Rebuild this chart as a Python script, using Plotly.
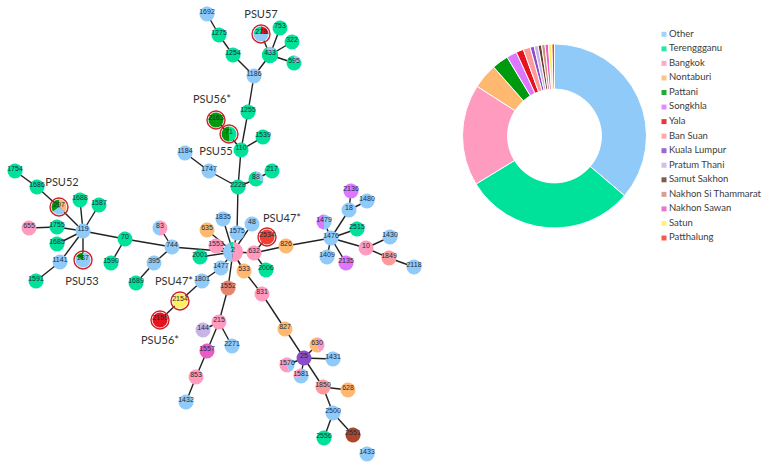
import math
import plotly.graph_objects as go

# donut + legend
places = ["Other", "Terengganu", "Bangkok", "Nontaburi", "Pattani", "Songkhla", "Yala", "Ban Suan",
          "Kuala Lumpur", "Pratum Thani", "Samut Sakhon", "Nakhon Si Thammarat", "Nakhon Sawan", "Satun", "Patthalung"]
legend_labels = ["Other", "Terenggganu", "Bangkok", "Nontaburi", "Pattani", "Songkhla", "Yala", "Ban Suan",
                 "Kuala Lumpur", "Pratum Thani", "Samut Sakhon", "Nakhon Si Thammarat", "Nakhon Sawan", "Satun", "Patthalung"]
shares = [36.2, 30.0, 17.8, 4.4, 2.9, 1.8, 1.3, 1.25, 0.7, 0.7, 0.6, 0.6, 0.6, 0.6, 0.45]
colors = ["#90CAF9", "#00E29A", "#FF9BBF", "#FFB870", "#009A0E", "#DD77FF", "#E6121E", "#FF9A9A",
          "#8A4FC8", "#C9B4E8", "#6B3E2E", "#D08E80", "#E85CC4", "#FFF060", "#F04030"]
place_color = dict(zip(places, colors))
# two nodes are a bit redder on the network than in the donut
place_color["Samut Sakhon"] = "#B0452C"
place_color["Nakhon Si Thammarat"] = "#E5856F"

# network nodes
node_label = ["1754", "1686", "297", "1688", "1587", "655", "1755", "119", "1685", "1141", "1591", "287",
              "70", "1590", "744", "83", "395", "1689", "2001", "1801", "2154", "2155",
              "1692", "1275", "1254", "1186", "279", "753", "433", "322", "595", "1255", "2163", "71", "110",
              "1539", "1184", "1747", "2228", "88", "217",
              "1835", "1575", "48", "635", "1553", "2", "632", "2534", "826", "2006", "533", "1477", "1552", "831",
              "2136", "1480", "18", "1479", "2515", "1476", "1430", "10", "1409", "2135", "1849", "2118",
              "215", "144", "2271", "1557", "853", "1432",
              "827", "25", "630", "1431", "1576", "1581", "1850", "628", "2500", "2556", "2551", "1433"]
node_x = [15, 37, 59, 80, 99, 29, 57, 83, 57, 60, 36, 83,
          125, 111, 172, 160, 154, 136, 200, 202, 180, 160,
          207, 219, 233, 254, 261, 280, 270, 292, 294, 248, 216, 229, 241,
          263, 185, 209, 238, 256, 272,
          223, 237, 252, 207, 216, 233, 254, 267, 286, 266, 244, 221, 228, 262,
          351, 367, 349, 324, 357, 331, 390, 366, 327, 346, 389, 414,
          219, 203, 232, 207, 196, 186,
          285, 304, 317, 333, 287, 301, 323, 348, 333, 324, 353, 367]
node_y = [171, 187, 207, 200, 205, 228, 227, 231, 244, 262, 281, 260,
          239, 263, 247, 228, 263, 283, 257, 281, 301, 320,
          14, 35, 55, 76, 34, 28, 55, 42, 63, 112, 120, 134, 150,
          137, 153, 171, 187, 179, 171,
          219, 233, 224, 230, 246, 252, 253, 237, 246, 270, 271, 268, 288, 294,
          191, 201, 210, 222, 229, 238, 237, 248, 257, 263, 258, 267,
          322, 330, 346, 351, 377, 402,
          329, 358, 345, 359, 365, 376, 387, 390, 413, 438, 435, 454]

# single place nodes, everything else is in mixed_nodes
terengganu_nodes = ["1754", "1686", "1688", "1587", "1755", "1685", "1591", "70", "1590", "1689", "2001",
                    "1275", "1254", "753", "322", "1255", "110", "1539", "2228", "217", "2006", "2515", "2556"]
bangkok_nodes = ["655", "1553", "632", "831", "10", "215", "853"]
nontaburi_nodes = ["635", "826", "533", "827", "628"]
single_nodes = {"2154": "Satun", "2155": "Yala", "2163": "Pattani", "2534": "Patthalung", "1552": "Nakhon Si Thammarat",
                "2136": "Songkhla", "2135": "Songkhla", "1849": "Ban Suan", "1850": "Ban Suan", "144": "Pratum Thani",
                "1557": "Nakhon Sawan", "25": "Kuala Lumpur", "2551": "Samut Sakhon"}
mixed_nodes = {
    "297": [("Nontaburi", 0.35), ("Other", 0.3), ("Pattani", 0.35)],
    "287": [("Other", 0.82), ("Pattani", 0.18)],
    "83": [("Bangkok", 0.5), ("Other", 0.5)],
    "279": [("Yala", 0.25), ("Other", 0.5), ("Terengganu", 0.25)],
    "433": [("Other", 0.1), ("Terengganu", 0.82), ("Other", 0.08)],
    "595": [("Other", 0.2), ("Terengganu", 0.8)],
    "71": [("Terengganu", 0.5), ("Pattani", 0.5)],
    "88": [("Other", 0.3), ("Terengganu", 0.7)],
    "2": [("Bangkok", 0.52), ("Other", 0.43), ("Terengganu", 0.05)],
    "1479": [("Other", 0.5), ("Songkhla", 0.5)],
    "630": [("Bangkok", 0.45), ("Nontaburi", 0.55)],
    "1576": [("Bangkok", 0.1), ("Other", 0.35), ("Bangkok", 0.55)],
    "1581": [("Other", 0.7), ("Bangkok", 0.3)],
}
ringed_nodes = ["297", "287", "279", "2163", "71", "2534", "2154", "2155"]

edge_from = ["1754", "1686", "297", "1688", "1587", "1755", "655", "1685", "1141", "1591", "287", "119", "70", "70",
             "744", "744", "395", "744", "2001", "1801", "1801", "2154", "1477", "1552", "1552", "215", "215", "215",
             "1557", "853", "2", "2", "2", "2", "2", "2", "632", "632", "632", "533", "2", "831", "827", "25", "25",
             "25", "25", "25", "1850", "1850", "2500", "2500", "2551", "1575", "2228", "2228", "1747", "2228", "88",
             "110", "71", "110", "110", "1255", "1186", "1254", "1275", "1186", "433", "433", "433", "433",
             "826", "1476", "1476", "18", "18", "1476", "1476", "1476", "1476", "10", "10", "1849"]
edge_to = ["1686", "297", "119", "119", "119", "119", "1755", "119", "119", "1141", "119", "70", "1590", "744",
           "83", "395", "1689", "2", "2", "1477", "2154", "2155", "2", "2", "215", "144", "2271", "1557",
           "853", "1432", "1835", "1575", "48", "635", "1553", "632", "826", "2534", "2006", "2", "533", "533", "831",
           "827", "630", "1431", "1576", "1581", "25", "628", "1850", "2556", "2500", "2228", "110", "1747", "1184",
           "88", "217", "71", "2163", "1539", "1255", "1186", "1254", "1275", "1692", "433", "279", "753", "322",
           "595", "1476", "1479", "18", "2136", "1480", "2515", "1409", "2135", "10", "1430", "1849", "2118"]

# PSU callouts
callout_text = ["PSU57", "PSU56*", "PSU55", "PSU52", "PSU53", "PSU47*", "PSU47*", "PSU56*"]
callout_x = [261, 212, 216, 62, 82, 282, 174, 160]
callout_y = [15, 100, 152, 183, 282, 219, 282, 341]

W, H = 766, 469
RADIUS = 7.5
big_nodes = {"2": 10, "433": 8.2}


def node_slices(label):
    if label in mixed_nodes:
        return mixed_nodes[label]
    if label in terengganu_nodes:
        return [("Terengganu", 1)]
    if label in bangkok_nodes:
        return [("Bangkok", 1)]
    if label in nontaburi_nodes:
        return [("Nontaburi", 1)]
    if label in single_nodes:
        return [(single_nodes[label], 1)]
    return [("Other", 1)]


def wedge(cx, cy, r, start, frac):
    n = max(4, int(48 * frac))
    xs, ys = [cx], [cy]
    for i in range(n + 1):
        a = 2 * math.pi * (start + frac * i / n)
        xs.append(cx + r * math.sin(a))
        ys.append(cy - r * math.cos(a))
    xs += [cx, None]
    ys += [cy, None]
    return xs, ys


fig = go.Figure()

pos = {lab: (x, y) for lab, x, y in zip(node_label, node_x, node_y)}
edge_x, edge_y = [], []
for a, b in zip(edge_from, edge_to):
    edge_x += [pos[a][0], pos[b][0], None]
    edge_y += [pos[a][1], pos[b][1], None]
fig.add_trace(go.Scatter(x=edge_x, y=edge_y, mode="lines", line=dict(color="#222222", width=1.4), hoverinfo="skip"))

poly_x = {p: [] for p in places}
poly_y = {p: [] for p in places}
for lab in node_label:
    start = 0
    for place, frac in node_slices(lab):
        xs, ys = wedge(pos[lab][0], pos[lab][1], big_nodes.get(lab, RADIUS), start, frac)
        poly_x[place] += xs
        poly_y[place] += ys
        start += frac
for p in places:
    if poly_x[p]:
        fig.add_trace(go.Scatter(x=poly_x[p], y=poly_y[p], mode="lines", fill="toself", fillcolor=place_color[p],
                                 line=dict(width=0), hoverinfo="skip"))

fig.add_trace(go.Scatter(x=[pos[n][0] for n in ringed_nodes], y=[pos[n][1] for n in ringed_nodes], mode="markers",
                         marker=dict(symbol="circle-open", size=18, color="#D0202A", line=dict(width=1.4, color="#D0202A")),
                         hoverinfo="skip"))
fig.add_trace(go.Scatter(x=node_x, y=[y - 2 for y in node_y], mode="text", text=node_label,
                         textfont=dict(family="Liberation Sans", size=7, color="#1c2a3a"), hoverinfo="skip"))
fig.add_trace(go.Scatter(x=callout_x, y=callout_y, mode="text", text=callout_text,
                         textfont=dict(family="Lato", size=11, color="#333333"), hoverinfo="skip"))

fig.add_trace(go.Pie(values=shares, labels=places, sort=False, direction="clockwise", rotation=0, hole=0.51,
                     marker=dict(colors=colors, line=dict(color="white", width=1)), textinfo="none", hoverinfo="label+percent",
                     domain=dict(x=[462.5 / W, 646.5 / W], y=[1 - 228 / H, 1 - 44 / H])))

legend_y = [34.3 + 14.55 * i for i in range(len(legend_labels))]
fig.add_trace(go.Scatter(x=[664] * len(legend_labels), y=legend_y, mode="markers",
                         marker=dict(symbol="square", size=5, color=colors, opacity=0.85), hoverinfo="skip"))
fig.add_trace(go.Scatter(x=[669] * len(legend_labels), y=legend_y, mode="text", text=legend_labels,
                         textposition="middle right", cliponaxis=False,
                         textfont=dict(family="Lato", size=9.5, color="#3c3c3c"), hoverinfo="skip"))

fig.update_layout(width=W, height=H, margin=dict(l=0, r=0, t=0, b=0), showlegend=False,
                  paper_bgcolor="white", plot_bgcolor="white",
                  xaxis=dict(range=[0, W], visible=False, domain=[0, 1]),
                  yaxis=dict(range=[H, 0], visible=False, domain=[0, 1]))
fig.write_html("out.html", config=dict(displayModeBar=False), post_script="document.body.style.margin='0';")
